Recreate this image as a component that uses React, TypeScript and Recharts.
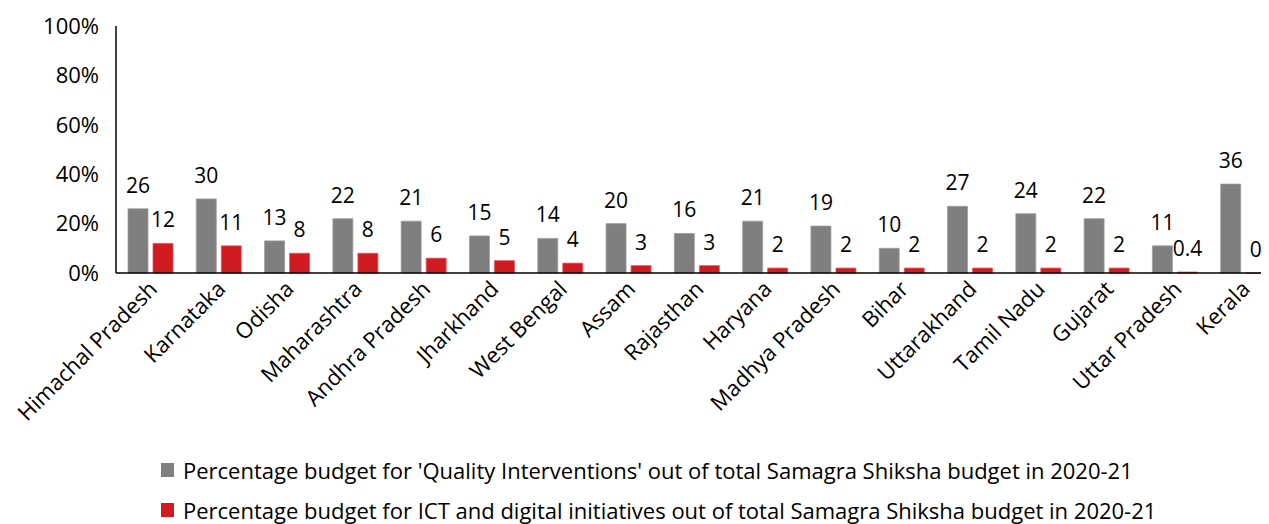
import { BarChart, Bar, XAxis, YAxis, Legend, LabelList } from "recharts";

const states = [
  "Himachal Pradesh",
  "Karnataka",
  "Odisha",
  "Maharashtra",
  "Andhra Pradesh",
  "Jharkhand",
  "West Bengal",
  "Assam",
  "Rajasthan",
  "Haryana",
  "Madhya Pradesh",
  "Bihar",
  "Uttarakhand",
  "Tamil Nadu",
  "Gujarat",
  "Uttar Pradesh",
  "Kerala",
];
const qualityShare = [26, 30, 13, 22, 21, 15, 14, 20, 16, 21, 19, 10, 27, 24, 22, 11, 36];
const ictShare = [12, 11, 8, 8, 6, 5, 4, 3, 3, 2, 2, 2, 2, 2, 2, 0.4, 0];
const yTicks = [0, 20, 40, 60, 80, 100];

const QUALITY_NAME =
  "Percentage budget for 'Quality Interventions' out of total Samagra Shiksha budget in 2020-21";
const ICT_NAME =
  "Percentage budget for ICT and digital initiatives out of total Samagra Shiksha budget in 2020-21";

const GRAY = "#7f7f7f";
const RED = "#d01b21";
const FONT = "'Open Sans', sans-serif";

const data = states.map((s, i) => ({ state: s, quality: qualityShare[i], ict: ictShare[i] }));

function StateTick({ x, y, payload }: any) {
  return (
    <g transform={`translate(${x + 3},${y + 4})`}>
      <text
        transform="rotate(-45)"
        textAnchor="end"
        dy="0.35em"
        fontSize={22}
        fontFamily={FONT}
        fill="#000"
      >
        {payload.value}
      </text>
    </g>
  );
}

function LegendBox() {
  const rows = [
    { color: GRAY, label: QUALITY_NAME },
    { color: RED, label: ICT_NAME },
  ];
  return (
    <div style={{ fontFamily: FONT, fontSize: 22, color: "#000" }}>
      {rows.map((r, i) => (
        <div
          key={r.label}
          style={{
            display: "flex",
            alignItems: "center",
            height: 30,
            marginTop: i === 0 ? 0 : 10,
            whiteSpace: "nowrap",
          }}
        >
          <span style={{ display: "inline-block", width: 13, height: 14, background: r.color, marginRight: 9 }} />
          <span>{r.label}</span>
        </div>
      ))}
    </div>
  );
}

export default function App() {
  return (
    <div style={{ width: 1261, height: 516, overflow: "hidden" }}>
      <BarChart
        width={1272}
        height={516}
        data={data}
        margin={{ top: 18, right: 3, left: 0, bottom: 0 }}
        barSize={20}
        barGap={5}
      >
        <XAxis
          dataKey="state"
          interval={0}
          height={182}
          tick={<StateTick />}
          tickLine={false}
          axisLine={{ stroke: "#000", strokeWidth: 1.5 }}
        />
        <YAxis
          domain={[0, 100]}
          ticks={yTicks}
          tickFormatter={(v) => `${v}%`}
          width={108}
          tickLine={false}
          tickMargin={11}
          axisLine={{ stroke: "#000", strokeWidth: 1.5 }}
          tick={{ fontSize: 22, fill: "#000", fontFamily: FONT }}
        />
        <Legend
          verticalAlign="bottom"
          height={69}
          content={<LegendBox />}
          wrapperStyle={{ left: 153, width: 1110 }}
        />
        <Bar
          dataKey="quality"
          name={QUALITY_NAME}
          fill={GRAY}
          stroke="#9c9c9c"
          strokeWidth={0.75}
          isAnimationActive={false}
        >
          <LabelList dataKey="quality" position="top" offset={16} fill="#000" fontSize={21} fontFamily={FONT} />
        </Bar>
        <Bar
          dataKey="ict"
          name={ICT_NAME}
          fill={RED}
          stroke="#e0575b"
          strokeWidth={0.75}
          minPointSize={(v: number) => (v === 0 ? 0.01 : 0)}
          isAnimationActive={false}
        >
          <LabelList dataKey="ict" position="top" offset={16} fill="#000" fontSize={21} fontFamily={FONT} />
        </Bar>
      </BarChart>
    </div>
  );
}
